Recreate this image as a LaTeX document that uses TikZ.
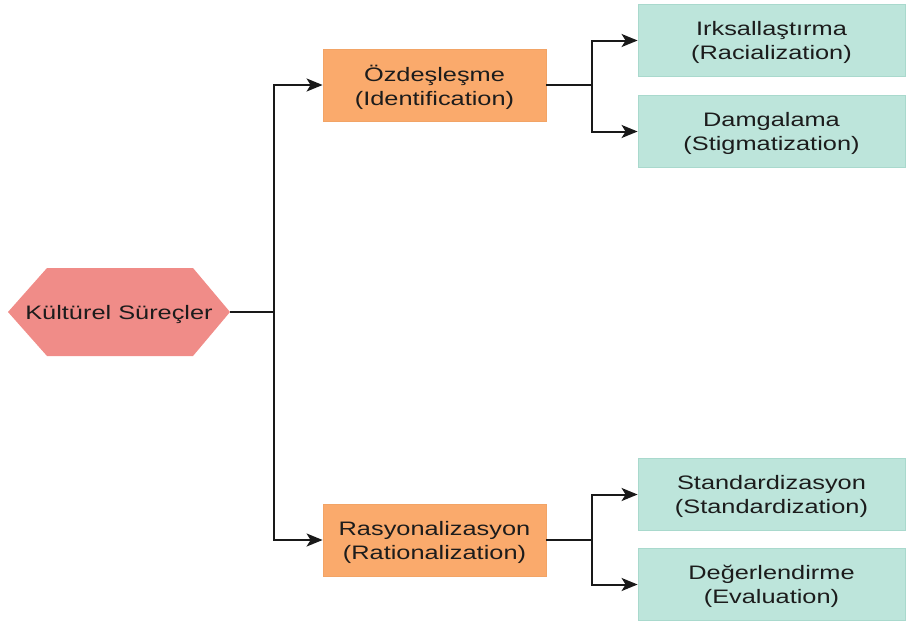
\documentclass[tikz,border=0pt]{standalone}
\usepackage{fontspec}
\setmainfont{Liberation Sans}[FakeStretch=1.3]
\usetikzlibrary{positioning,calc,arrows.meta}
\definecolor{hexred}{HTML}{F08C88}
\definecolor{boxorange}{HTML}{FAAA6C}
\definecolor{orangeline}{HTML}{F2A466}
\definecolor{boxgreen}{HTML}{BDE5DB}
\definecolor{greenline}{HTML}{A9D9CD}
\definecolor{textdark}{HTML}{1C1C1C}

\begin{document}
\begin{tikzpicture}[
  x=1pt,y=-1pt,
  every node/.style={
    align=center,
    anchor=center,
    inner sep=0pt,
    text=textdark,
    font=\fontsize{19.5pt}{24pt}\selectfont,
    text depth=-6pt,
  },
  hexnode/.style={minimum width=222pt,minimum height=88pt,text depth=-2pt},
  midbox/.style={fill=boxorange,draw=orangeline,line width=0.8pt,
    minimum width=223pt,minimum height=72pt},
  leafbox/.style={fill=boxgreen,draw=greenline,line width=0.8pt,
    minimum width=267pt,minimum height=72pt},
  fork/.style={to path={-- ++(#1,0) |- (\tikztotarget)}},
  ]
  \useasboundingbox (0,0) rectangle (908,624);
  \coordinate (root) at (119,312);
  \fill[hexred] ($(root)+(-111,0)$) -- ++(39,-44) -- ++(146,0) -- ++(37,44)
    -- ++(-37,44) -- ++(-146,0) -- cycle;
  \node[hexnode] (culture) at (root) {Kültürel Süreçler};
  \node[midbox] (ident)  at (434.5,85)  {Özdeşleşme\\(Identification)};
  \node[midbox] (ration) at (434.5,540) {Rasyonalizasyon\\(Rationalization)};
  \node[leafbox] (racial) at ($(ident)+(337,-44.5)$)  {Irksallaştırma\\(Racialization)};
  \node[leafbox] (stigma) at ($(ident)+(337,46.5)$)   {Damgalama\\(Stigmatization)};
  \node[leafbox] (standard) at ($(ration)+(337,-45.5)$) {Standardizasyon\\(Standardization)};
  \node[leafbox] (evaluate) at ($(ration)+(337,44.5)$)  {Değerlendirme\\(Evaluation)};
  \begin{scope}[
    every edge/.style={draw=black!90,line width=2pt,
      -{Stealth[length=16pt,width=13pt,inset=4pt]}},
    ]
    \path
    (culture.east) edge[fork=44] (ident.west)
    (culture.east) edge[fork=44] (ration.west)
    (ident.east)   edge[fork=46] (racial.west)
    (ident.east)   edge[fork=46] (stigma.west)
    (ration.east)  edge[fork=46] (standard.west)
    (ration.east)  edge[fork=46] (evaluate.west);
  \end{scope}
\end{tikzpicture}
\end{document}
